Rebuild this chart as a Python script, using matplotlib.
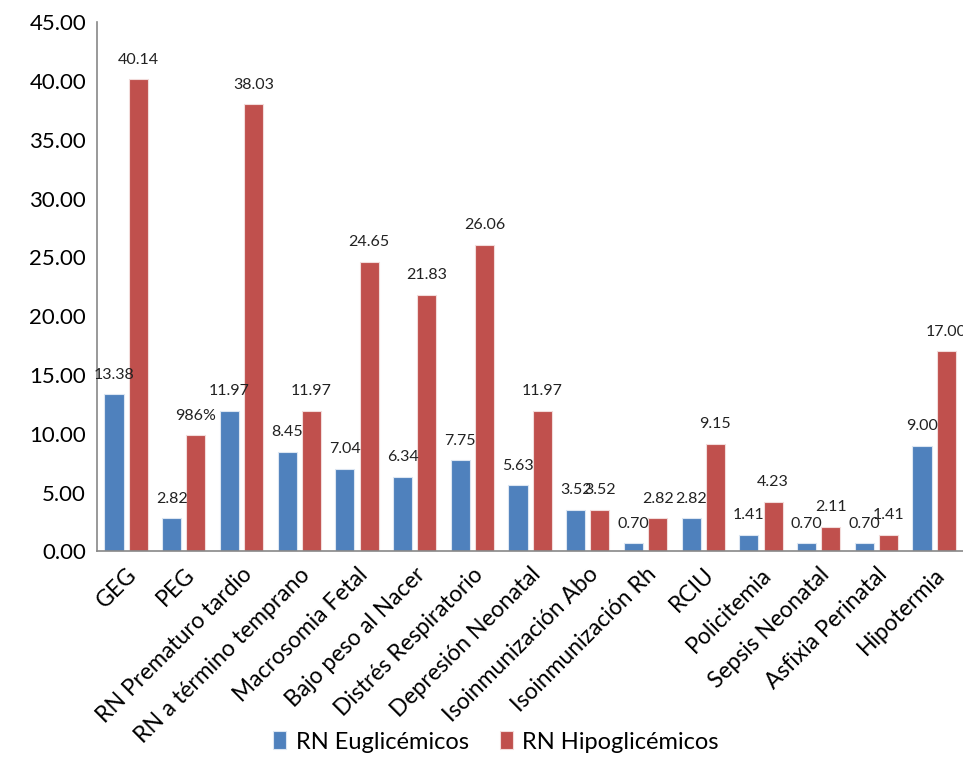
import numpy as np
import matplotlib.pyplot as plt

categorias = ["GEG", "PEG", "RN Prematuro tardio", "RN a término temprano",
              "Macrosomia Fetal", "Bajo peso al Nacer", "Distrés Respiratorio",
              "Depresión Neonatal", "Isoinmunización Abo", "Isoinmunización Rh",
              "RCIU", "Policitemia", "Sepsis Neonatal", "Asfixia Perinatal",
              "Hipotermia"]
euglicemicos = [13.38, 2.82, 11.97, 8.45, 7.04, 6.34, 7.75, 5.63, 3.52, 0.70,
                2.82, 1.41, 0.70, 0.70, 9.00]
hipoglicemicos = [40.14, 9.86, 38.03, 11.97, 24.65, 21.83, 26.06, 11.97, 3.52,
                  2.82, 9.15, 4.23, 2.11, 1.41, 17.00]
etiquetas_hipo = ["40.14", "986%", "38.03", "11.97", "24.65", "21.83", "26.06",
                  "11.97", "3.52", "2.82", "9.15", "4.23", "2.11", "1.41", "17.00"]

plt.rcParams['font.family'] = ['Lato', 'DejaVu Sans']

fig = plt.figure(figsize=(9.63, 7.7), dpi=100)
ax = fig.add_axes([0.101, 0.284, 0.899, 0.687])

x = np.arange(len(categorias))
w = 0.33
azul = "#4F81BD"
rojo = "#C0504D"

b1 = ax.bar(x - 0.21, euglicemicos, w, color=azul, edgecolor="#DCE6F2", linewidth=0.8,
            label="RN Euglicémicos")
b2 = ax.bar(x + 0.21, hipoglicemicos, w, color=rojo, edgecolor="#F2DCDB", linewidth=0.8,
            label="RN Hipoglicémicos")

# etiquetas de valor sobre cada barra
for xi, v in zip(x - 0.21, euglicemicos):
    ax.annotate(f"{v:.2f}", (xi, v), xytext=(0, 9), textcoords="offset points",
                ha="center", va="bottom", fontsize=11.5, color="#222222",
                annotation_clip=False)
for xi, v, t in zip(x + 0.21, hipoglicemicos, etiquetas_hipo):
    ax.annotate(t, (xi, v), xytext=(0, 9), textcoords="offset points",
                ha="center", va="bottom", fontsize=11.5, color="#222222",
                annotation_clip=False)

ax.set_xlim(-0.5, len(categorias) - 0.5)
ax.set_ylim(0, 45)
ax.set_yticks(np.arange(0, 46, 5))
ax.set_yticklabels([f"{t:.2f}" for t in np.arange(0, 46, 5)], fontsize=16)
ax.set_xticks(x)
ax.set_xticklabels(categorias, rotation=45, ha="right", va="top",
                   rotation_mode="anchor", fontsize=16.5)
ax.tick_params(axis="both", length=0, pad=8)
ax.tick_params(axis="x", pad=9)

for s in ["top", "right"]:
    ax.spines[s].set_visible(False)
ax.spines["left"].set_color("#888888")
ax.spines["bottom"].set_color("#888888")
ax.spines["left"].set_linewidth(1.2)
ax.spines["bottom"].set_linewidth(1.2)

fig.legend(handles=[b1, b2], loc="lower center", bbox_to_anchor=(0.515, -0.005),
           ncol=2, frameon=False, fontsize=17, handlelength=0.55, handleheight=0.8,
           handletextpad=0.4, columnspacing=1.3)

fig.savefig("out.png", dpi=100)
